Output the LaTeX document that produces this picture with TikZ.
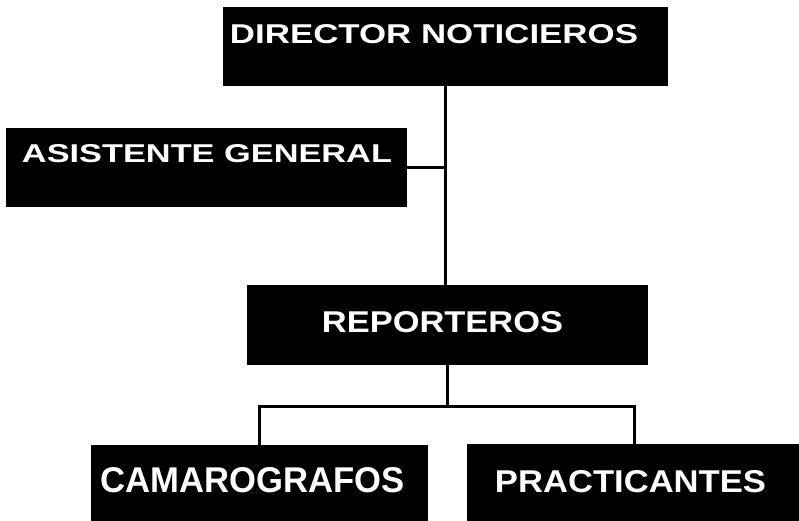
\documentclass[tikz,border=0pt]{standalone}
\usepackage{fontspec}
\setmainfont{Liberation Sans}
\usepackage{graphicx}
\begin{document}
\begin{tikzpicture}[x=1pt,y=-1pt,
  box/.style={fill=black,draw=none,inner sep=0pt,minimum width=#1},
  lbl/.style={text=white,inner sep=0pt,font=\bfseries},
  conn/.style={line width=3pt,draw=black}]
\useasboundingbox (0,0) rectangle (799,521);
\fill[white] (0,0) rectangle (799,521);
% boxes
\node[box=445pt,minimum height=79pt] (dir) at (445.5,46.5) {};
\node[box=401pt,minimum height=79pt] (asi) at (206.5,167.5) {};
\node[box=401pt,minimum height=80pt] (rep) at (447.5,325) {};
\node[box=337pt,minimum height=80pt,anchor=north] (cam) at (259.5,445) {};
\node[box=334pt,minimum height=80pt,anchor=north] (pra) at (634,444) {};
% labels
\node[lbl] (dirT) at (434,34.5) {\resizebox{408pt}{19pt}{DIRECTOR NOTICIEROS}};
\node[lbl] (asiT) at (207,154) {\resizebox{370pt}{18pt}{ASISTENTE GENERAL}};
\node[lbl] (repT) at (442.5,322.5) {\resizebox{241pt}{21pt}{REPORTEROS}};
\node[lbl] (camT) at (253,480.5) {\resizebox{304pt}{25pt}{CAMAROGRAFOS}};
\node[lbl] (praT) at (630.5,482) {\resizebox{271pt}{22pt}{PRACTICANTES}};
% connectors
\coordinate (bus) at (447,406);
\draw[conn] (dir.south) -- (dir.south |- rep.north);
\draw[conn] (asi.east) -- (asi.east -| dir.south);
\draw[conn] (rep.south) -- (rep.south |- bus);
\draw[conn] (cam.north) |- (bus) -| (pra.north);
\end{tikzpicture}
\end{document}
